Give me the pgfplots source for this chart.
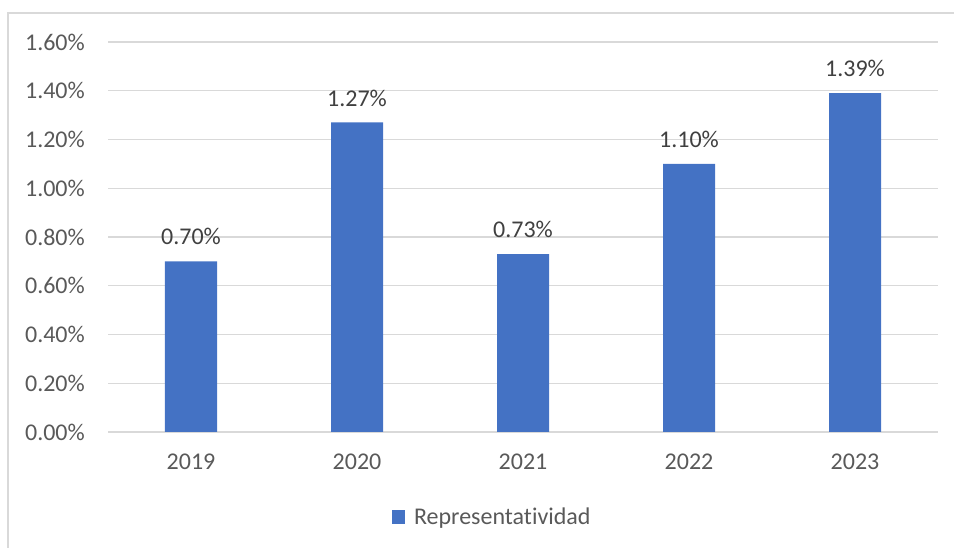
\documentclass[border=0pt]{standalone}
\usepackage{pgfplots}
\pgfplotsset{compat=1.18}
\usepackage{fontspec}
\setmainfont{Carlito}[Ligatures=NoCommon]
\definecolor{barblue}{HTML}{4472C4}
\definecolor{gridgray}{HTML}{D9D9D9}
\definecolor{txtgray}{HTML}{595959}
\definecolor{lblgray}{HTML}{404040}
\begin{document}
\begin{tikzpicture}[x=1pt,y=1pt]
\useasboundingbox (0,0) rectangle (954,548);
\draw[gridgray,line width=1.2pt] (8,0) -- (8,535) -- (954,535);
\begin{axis}[
  at={(108pt,116pt)}, anchor=south west,
  width=830pt, height=390pt, scale only axis,
  xmin=-0.5, xmax=4.5, ymin=0, ymax=1.6,
  xtick={0,1,2,3,4}, xticklabels={2019,2020,2021,2022,2023},
  ytick={0,0.2,0.4,0.6,0.8,1.0,1.2,1.4,1.6},
  yticklabel={\pgfmathprintnumber[fixed,fixed zerofill,precision=2]{\tick}\%},
  /pgf/number format/assume math mode=true,
  axis line style={draw=none},
  axis x line*=bottom,
  tick style={draw=none},
  ymajorgrids, grid style={gridgray,line width=1.3pt},
  x axis line style={gridgray,line width=1.3pt},
  ticklabel style={font=\fontsize{24}{28}\selectfont, text=txtgray},
  yticklabel style={anchor=east, inner sep=0pt, xshift=-23pt},
  xticklabel style={anchor=north, inner sep=0pt, yshift=-22pt},
  legend style={at={(0.4627,-0.218)}, anchor=center, draw=none, fill=none,
    font=\fontsize{24}{28}\selectfont, text=txtgray, inner sep=0pt,
    legend cell align=left,
    /tikz/every odd column/.append style={column sep=7pt}},
  legend image code/.code={\fill[barblue] (0pt,-6.5pt) rectangle (13.5pt,7pt);},
]
\addplot[ybar, bar width=52pt, fill=barblue, draw=none,
  nodes near coords={\pgfmathprintnumber[fixed,fixed zerofill,precision=2]{\pgfplotspointmeta}\%},
  nodes near coords style={font=\fontsize{24}{28}\selectfont, text=lblgray, anchor=south, inner sep=0pt, yshift=16pt, /pgf/number format/assume math mode=true},
] coordinates {(0,0.70) (1,1.27) (2,0.73) (3,1.10) (4,1.39)};
\addlegendentry{Representatividad}
\end{axis}
\end{tikzpicture}
\end{document}
